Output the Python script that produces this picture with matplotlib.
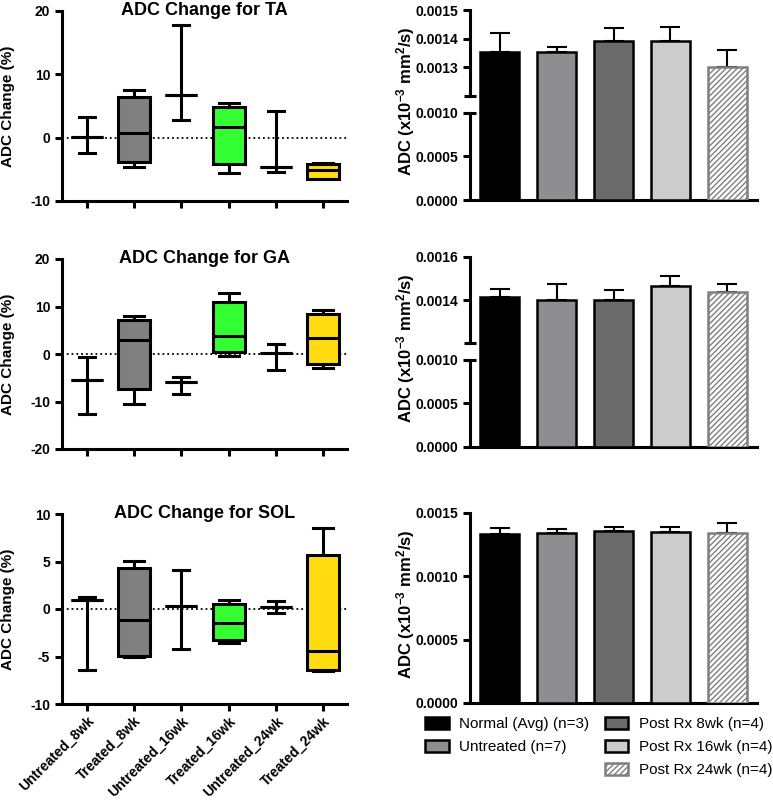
import numpy as np
import matplotlib
matplotlib.use('Agg')
from matplotlib import pyplot as plt
from matplotlib.patches import Patch

plt.rcParams['font.family'] = ['Liberation Sans', 'DejaVu Sans']
plt.rcParams['mathtext.fontset'] = 'custom'
plt.rcParams['mathtext.rm'] = 'Liberation Sans:bold'
plt.rcParams['mathtext.bf'] = 'Liberation Sans:bold'
plt.rcParams['mathtext.default'] = 'bf'
plt.rcParams['hatch.color'] = '#7f7f7f'
plt.rcParams['hatch.linewidth'] = 1.0

# ---- data: box plots of ADC change (%) ----
groups = ['Untreated_8wk', 'Treated_8wk', 'Untreated_16wk',
          'Treated_16wk', 'Untreated_24wk', 'Treated_24wk']

ta_lo = [-2.4, -4.7, 2.8, -5.6, -5.4, -6.6]
ta_q1 = [0.15, -3.8, 6.8, -4.2, -4.7, -6.5]
ta_med = [0.15, 0.8, 6.8, 1.7, -4.7, -5.1]
ta_q3 = [0.15, 6.4, 6.8, 4.9, -4.7, -4.2]
ta_hi = [3.2, 7.6, 17.8, 5.4, 4.2, -4.0]

ga_lo = [-12.6, -10.5, -8.4, -0.5, -3.45, -2.95]
ga_q1 = [-5.55, -7.4, -5.8, 0.4, 0.25, -2.0]
ga_med = [-5.55, 2.9, -5.8, 3.7, 0.25, 3.4]
ga_q3 = [-5.55, 7.1, -5.8, 10.9, 0.25, 8.5]
ga_hi = [-0.6, 8.1, -4.85, 12.8, 2.1, 9.2]

sol_lo = [-6.4, -5.05, -4.2, -3.6, -0.4, -6.55]
sol_q1 = [1.0, -4.9, 0.3, -3.3, 0.25, -6.4]
sol_med = [1.0, -1.2, 0.3, -1.45, 0.25, -4.45]
sol_q3 = [1.0, 4.3, 0.3, 0.55, 0.25, 5.7]
sol_hi = [1.25, 5.1, 4.1, 0.9, 0.85, 8.55]

# ---- data: mean ADC bars (mm^2/s) with SEM ----
bar_names = ['Normal (Avg) (n=3)', 'Untreated (n=7)', 'Post Rx 8wk (n=4)',
             'Post Rx 16wk (n=4)', 'Post Rx 24wk (n=4)']
ta_mean = [0.001353, 0.001353, 0.001392, 0.001392, 0.001300]
ta_sem = [0.000066, 0.000016, 0.000045, 0.000050, 0.000060]
ga_mean = [0.001415, 0.001401, 0.001401, 0.001464, 0.001437]
ga_sem = [0.000038, 0.000073, 0.000046, 0.000049, 0.000038]
sol_mean = [0.001334, 0.001341, 0.001360, 0.001349, 0.001341]
sol_sem = [0.000047, 0.000034, 0.000026, 0.000037, 0.000084]

box_colors = ['none', '#808080', 'none', '#33ff33', 'none', '#ffdb10']
bar_colors = ['#000000', '#8e8e91', '#6b6b6b', '#cccccc', '#ffffff']
bar_edges = ['k', 'k', 'k', 'k', '#7f7f7f']

LW = 2.2

fig = plt.figure(figsize=(7.73, 8), dpi=100)


def box_panel(rect, lo, q1, med, q3, hi, ylim, yticks, title, show_labels):
    ax = fig.add_axes(rect)
    stats = []
    for i in range(len(groups)):
        stats.append(dict(whislo=lo[i], q1=q1[i], med=med[i], q3=q3[i],
                          whishi=hi[i], fliers=[]))
    pos = np.arange(len(groups))
    bp = ax.bxp(stats, positions=pos, widths=0.68, capwidths=[0.34, 0.42] * 3,
                patch_artist=True, showfliers=False, manage_ticks=False,
                boxprops=dict(linewidth=LW, edgecolor='k'),
                whiskerprops=dict(linewidth=LW, color='k'),
                capprops=dict(linewidth=LW, color='k'),
                medianprops=dict(linewidth=LW, color='k'), zorder=3)
    for patch, c in zip(bp['boxes'], box_colors):
        patch.set_facecolor(c)
    ax.axhline(0, color='k', ls=':', lw=1.3, zorder=1)
    ax.set_xlim(-0.52, 5.5)
    ax.set_ylim(*ylim)
    ax.spines[['top', 'right']].set_visible(False)
    ax.spines[['left', 'bottom']].set_linewidth(LW)
    ax.tick_params(direction='out', length=5, width=LW)
    ax.set_yticks(yticks, labels=[str(v) for v in yticks],
                  fontsize=10, fontweight='bold')
    if show_labels:
        ax.set_xticks(pos, labels=groups, rotation=45, ha='right',
                      rotation_mode='anchor', fontsize=10, fontweight='bold')
        ax.tick_params(axis='x', pad=2)
    else:
        ax.set_xticks(pos, labels=[])
    ax.set_title(title, fontsize=13, fontweight='bold', y=1.0, pad=-3)
    ax.set_ylabel('ADC Change (%)', fontsize=11, fontweight='bold')
    ax.yaxis.set_label_coords(-0.165, 0.5)
    return ax


def piecewise(xp, fp):
    xp = np.asarray(xp, float)
    fp = np.asarray(fp, float)

    def fwd(y):
        y = np.asarray(y, float)
        out = np.interp(y, xp, fp)
        s0 = (fp[1] - fp[0]) / (xp[1] - xp[0])
        s1 = (fp[-1] - fp[-2]) / (xp[-1] - xp[-2])
        out = np.where(y < xp[0], fp[0] + (y - xp[0]) * s0, out)
        out = np.where(y > xp[-1], fp[-1] + (y - xp[-1]) * s1, out)
        return out

    def inv(v):
        v = np.asarray(v, float)
        out = np.interp(v, fp, xp)
        s0 = (xp[1] - xp[0]) / (fp[1] - fp[0])
        s1 = (xp[-1] - xp[-2]) / (fp[-1] - fp[-2])
        out = np.where(v < fp[0], xp[0] + (v - fp[0]) * s0, out)
        out = np.where(v > fp[-1], xp[-1] + (v - fp[-1]) * s1, out)
        return out
    return fwd, inv


def bar_panel(rect, mean, sem, top, yticks, brk=None):
    ax = fig.add_axes(rect)
    x = np.arange(len(mean))
    if brk is not None:
        # broken axis: 0-0.0010 compressed, 0.0012-top expanded
        fwd, inv = piecewise([0, 0.0010, 0.0012, top], [0, brk[0], brk[1], 1])
        ax.set_yscale('function', functions=(fwd, inv))
    bars = ax.bar(x, mean, width=0.69, color=bar_colors, edgecolor=bar_edges,
                  linewidth=1.8, zorder=3)
    bars[-1].set_hatch('//////')
    ax.errorbar(x, mean, yerr=[np.zeros(len(sem)), sem], fmt='none', ecolor='k',
                elinewidth=1.5, capsize=7, capthick=1.5, zorder=2)
    ax.set_xlim(-0.52, 4.52)
    ax.set_ylim(0, top)
    ax.set_xticks([])
    ax.set_yticks(yticks, labels=['%.4f' % v for v in yticks],
                  fontsize=10, fontweight='bold')
    ax.yaxis.set_minor_locator(matplotlib.ticker.NullLocator())
    ax.spines[['top', 'right']].set_visible(False)
    ax.spines[['left', 'bottom']].set_linewidth(LW)
    ax.tick_params(direction='out', length=5, width=LW)
    if brk is not None:
        ax.spines['left'].set_bounds(0.0012, top)
        ax.plot([0, 0], [0, 0.0010], transform=ax.get_yaxis_transform(),
                color='k', lw=LW, clip_on=False, solid_capstyle='butt')
        ax.plot([0, 0], [0.0010, 0.0012], transform=ax.get_yaxis_transform(),
                ls='none', marker='_', ms=9, mew=LW, color='k', clip_on=False)
    ax.set_ylabel('ADC (x10$^{-3}$ mm$^{2}$/s)', fontsize=12, fontweight='bold')
    ax.yaxis.set_label_coords(-0.185, 0.52)
    return ax


L, LWID = 62 / 773, 285 / 773
R, RWID = 470 / 773, 287 / 773
H = 190 / 800

box_panel([L, 1 - 201 / 800, LWID, H], ta_lo, ta_q1, ta_med, ta_q3, ta_hi,
          (-10, 20), [-10, 0, 10, 20], 'ADC Change for TA', False)
box_panel([L, 1 - 449 / 800, LWID, H], ga_lo, ga_q1, ga_med, ga_q3, ga_hi,
          (-20, 20), [-20, -10, 0, 10, 20], 'ADC Change for GA', False)
box_panel([L, 1 - 704 / 800, LWID, H], sol_lo, sol_q1, sol_med, sol_q3, sol_hi,
          (-10, 10), [-10, -5, 0, 5, 10], 'ADC Change for SOL', True)

bar_panel([R, 1 - 200 / 800, RWID, H], ta_mean, ta_sem, 0.0015,
          [0, 0.0005, 0.0010, 0.0013, 0.0014, 0.0015], brk=(0.4595, 0.549))
bar_panel([R, 1 - 447 / 800, RWID, H], ga_mean, ga_sem, 0.0016,
          [0, 0.0005, 0.0010, 0.0014, 0.0016], brk=(0.4595, 0.547))
bar_panel([R, 1 - 703 / 800, RWID, H], sol_mean, sol_sem, 0.0015,
          [0, 0.0005, 0.0010, 0.0015])

# legend: two columns, an empty slot keeps 2 entries left and 3 right
handles = []
for i in range(2):
    handles.append(Patch(facecolor=bar_colors[i], edgecolor=bar_edges[i],
                         linewidth=1.8, label=bar_names[i]))
handles.append(Patch(facecolor='none', edgecolor='none', label=''))
for i in range(2, 5):
    handles.append(Patch(facecolor=bar_colors[i], edgecolor=bar_edges[i],
                         linewidth=1.8, label=bar_names[i],
                         hatch='//////' if i == 4 else None))
fig.legend(handles=handles, loc='upper left', bbox_to_anchor=(425 / 773, 1 - 717 / 800),
           ncol=2, frameon=False, fontsize=11, handlelength=1.55, handleheight=0.85,
           handletextpad=0.7, columnspacing=1.0, labelspacing=0.55,
           borderpad=0, borderaxespad=0)

plt.savefig('out.png', dpi=100)
